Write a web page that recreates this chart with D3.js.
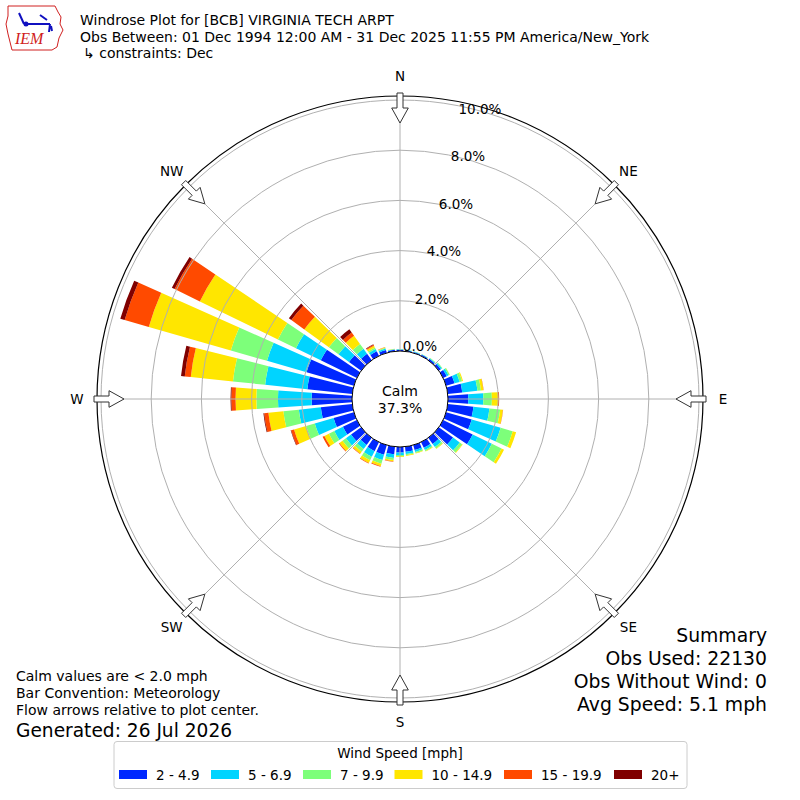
<!DOCTYPE html>
<html>
<head>
<meta charset="utf-8">
<script src="https://cdn.jsdelivr.net/npm/d3@7"></script>
<style>
  body { margin: 0; background: #fff; }
  svg { font-family: "DejaVu Sans", sans-serif; }
</style>
</head>
<body>
<div class="container"></div>
<script>
// wind direction (deg, meteorology) for each bar
const directions = [0, 10, 20, 30, 40, 50, 60, 70, 80, 90, 100, 110, 120, 130, 140, 150, 160, 170,
                    180, 190, 200, 210, 220, 230, 240, 250, 260, 270, 280, 290, 300, 310, 320, 330, 340, 350]

// percent of obs per direction, one array per speed bin
const bin2to5   = [0.05, 0.04, 0.04, 0.05, 0.07, 0.10, 0.16, 0.35, 0.58, 0.81, 1.03, 1.06, 1.31, 0.70, 0.30, 0.25, 0.20, 0.20,
                   0.22, 0.30, 0.40, 0.40, 0.35, 0.50, 0.62, 0.84, 1.26, 1.61, 1.80, 1.96, 1.60, 0.60, 0.32, 0.20, 0.12, 0.06]
const bin5to7   = [0.02, 0.02, 0.02, 0.02, 0.03, 0.05, 0.08, 0.21, 0.61, 0.60, 0.64, 1.20, 0.85, 0.33, 0.15, 0.10, 0.08, 0.09,
                   0.10, 0.15, 0.22, 0.25, 0.20, 0.25, 0.38, 0.78, 0.88, 1.34, 1.69, 1.64, 1.10, 0.52, 0.24, 0.10, 0.06, 0.02]
const bin7to10  = [0.01, 0.01, 0.01, 0.01, 0.02, 0.03, 0.05, 0.10, 0.14, 0.34, 0.43, 0.50, 0.43, 0.12, 0.08, 0.05, 0.05, 0.05,
                   0.05, 0.08, 0.15, 0.15, 0.13, 0.17, 0.24, 0.36, 0.62, 0.86, 1.29, 1.50, 0.80, 0.47, 0.24, 0.07, 0.03, 0.01]
const bin10to15 = [0.00, 0.00, 0.00, 0.00, 0.00, 0.00, 0.01, 0.04, 0.10, 0.25, 0.11, 0.14, 0.11, 0.03, 0.02, 0.02, 0.02, 0.03,
                   0.03, 0.05, 0.10, 0.12, 0.10, 0.15, 0.20, 0.50, 0.60, 0.83, 1.69, 3.40, 3.46, 1.21, 0.40, 0.08, 0.02, 0.01]
const bin15to20 = [0.00, 0.00, 0.00, 0.00, 0.00, 0.00, 0.00, 0.00, 0.01, 0.04, 0.01, 0.00, 0.00, 0.00, 0.00, 0.00, 0.00, 0.00,
                   0.00, 0.02, 0.03, 0.03, 0.02, 0.03, 0.08, 0.12, 0.17, 0.17, 0.24, 1.00, 1.12, 0.64, 0.16, 0.04, 0.01, 0.00]
const bin20plus = [0.00, 0.00, 0.00, 0.00, 0.00, 0.00, 0.00, 0.00, 0.00, 0.00, 0.00, 0.00, 0.00, 0.00, 0.00, 0.00, 0.00, 0.00,
                   0.00, 0.00, 0.00, 0.00, 0.00, 0.00, 0.00, 0.02, 0.03, 0.03, 0.15, 0.18, 0.12, 0.12, 0.16, 0.02, 0.00, 0.00]

const speedLabels = ["2 - 4.9", "5 - 6.9", "7 - 9.9", "10 - 14.9", "15 - 19.9", "20+"]
const speedColors = ["#0028ff", "#00d4ff", "#7dff7a", "#ffe600", "#ff4a00", "#800000"]

const ringTicks = [0, 2, 4, 6, 8, 10]
const compassNames = ["N", "NE", "E", "SE", "S", "SW", "W", "NW"]
const compassAngles = [0, 45, 90, 135, 180, 225, 270, 315]

const calmPct = "37.3%"
const titleLines = ["Windrose Plot for [BCB] VIRGINIA TECH ARPT",
                    "Obs Between: 01 Dec 1994 12:00 AM - 31 Dec 2025 11:55 PM America/New_York",
                    "\u21b3 constraints: Dec"]
const noteLines = ["Calm values are < 2.0 mph", "Bar Convention: Meteorology", "Flow arrows relative to plot center."]
const generated = "Generated: 26 Jul 2026"
const summaryLines = ["Summary", "Obs Used: 22130", "Obs Without Wind: 0", "Avg Speed: 5.1 mph"]

// layout
const width = 800
const height = 800
const cx = 400
const cy = 399
const calmR = 48
const spineR = 303

const svg = d3.select(".container")
    .append("svg")
    .attr("width", width)
    .attr("height", height)

svg.append("rect").attr("width", width).attr("height", height).attr("fill", "#fff")

const rScale = d3.scaleLinear()
    .domain([0, 10])
    .range([calmR, 299])

const rad = d => d * Math.PI / 180
// compass bearing -> screen point
const polar = (deg, r) => [cx + r * Math.sin(rad(deg)), cy - r * Math.cos(rad(deg))]

const rose = svg.append("g").attr("transform", `translate(${cx}, ${cy})`)

// stack the bins per direction
const table = directions.map((d, i) => ({
    dir: d,
    b0: bin2to5[i], b1: bin5to7[i], b2: bin7to10[i],
    b3: bin10to15[i], b4: bin15to20[i], b5: bin20plus[i]
}))
const stacked = d3.stack().keys(["b0", "b1", "b2", "b3", "b4", "b5"])(table)

const arc = d3.arc()
const halfWidth = 4   // bar opening in degrees on each side

stacked.forEach((layer, k) => {
    rose.append("g")
        .selectAll("path")
        .data(layer)
        .enter()
        .append("path")
        .attr("d", d => arc({
            innerRadius: rScale(d[0]),
            outerRadius: rScale(d[1]),
            startAngle: rad(d.data.dir - halfWidth),
            endAngle: rad(d.data.dir + halfWidth)
        }))
        .style("fill", speedColors[k])
})

// grid rings and spokes on top of bars
const grid = rose.append("g")
grid.selectAll("circle")
    .data(ringTicks.slice(1))
    .enter()
    .append("circle")
    .attr("r", d => rScale(d))
    .attr("fill", "none")
    .attr("stroke", "#b0b0b0")
    .attr("stroke-width", 1)

grid.selectAll("line")
    .data(compassAngles)
    .enter()
    .append("line")
    .attr("x1", d => calmR * Math.sin(rad(d)))
    .attr("y1", d => -calmR * Math.cos(rad(d)))
    .attr("x2", d => spineR * Math.sin(rad(d)))
    .attr("y2", d => -spineR * Math.cos(rad(d)))
    .attr("stroke", "#b0b0b0")
    .attr("stroke-width", 1)

// calm circle
rose.append("circle")
    .attr("r", calmR)
    .attr("fill", "#fff")
    .attr("stroke", "#000")
    .attr("stroke-width", 1)

rose.append("text")
    .attr("y", -3)
    .attr("text-anchor", "middle")
    .style("font-size", "14px")
    .text("Calm")
rose.append("text")
    .attr("y", 13.5)
    .attr("text-anchor", "middle")
    .style("font-size", "14px")
    .text(calmPct)

// outer spine
rose.append("circle")
    .attr("r", spineR)
    .attr("fill", "none")
    .attr("stroke", "#000")
    .attr("stroke-width", 1.2)

// ring labels, placed along a ray a little off north
svg.append("g")
    .selectAll("text")
    .data(ringTicks)
    .enter()
    .append("text")
    .attr("x", d => polar(14.2, 0.974 * rScale(d) + 7.9)[0] + 6.6)
    .attr("y", d => polar(14.2, 0.974 * rScale(d) + 7.9)[1])
    .attr("text-anchor", "middle")
    .attr("dominant-baseline", "central")
    .style("font-size", "13.5px")
    .text(d => d.toFixed(1) + "%")

// hollow flow arrows pointing at the center
const arrowShape = [[306, -3], [291, -3], [291, -8.3], [276, 0], [291, 8.3], [291, 3], [306, 3]]
svg.append("g")
    .selectAll("polygon")
    .data(compassAngles)
    .enter()
    .append("polygon")
    .attr("points", a => arrowShape.map(([r, off]) => {
        const p = polar(a, r)
        return [p[0] + off * Math.cos(rad(a)), p[1] + off * Math.sin(rad(a))].join(",")
    }).join(" "))
    .attr("fill", "#fff")
    .attr("stroke", "#333")
    .attr("stroke-width", 1)

// compass labels
svg.append("g")
    .selectAll("text")
    .data(compassNames)
    .enter()
    .append("text")
    .attr("x", (d, i) => polar(compassAngles[i], 323)[0])
    .attr("y", (d, i) => polar(compassAngles[i], 323)[1])
    .attr("text-anchor", "middle")
    .attr("dominant-baseline", "central")
    .style("font-size", "13.5px")
    .text(d => d)

// header
svg.append("g")
    .selectAll("text")
    .data(titleLines)
    .enter()
    .append("text")
    .attr("x", (d, i) => i == 2 ? 83 : 80)
    .attr("y", (d, i) => 25 + i * 16.5)
    .style("font-size", "14px")
    .text(d => d)

// IEM logo
const logo = svg.append("g")
logo.append("path")
    .attr("d", "M8,6 L55,6 L58,12 L61,17 L60,24 L63,30 L59,38 L57,47 L52,50 L12,50 L10,42 L8,34 L6,24 L8,16 Z")
    .attr("fill", "none")
    .attr("stroke", "#d02020")
    .attr("stroke-width", 1)
logo.append("path")
    .attr("d", "M24,24 L50,24 M24,24 L19,13 M40,15 L47,20 M50,24 L49,32 M51,26 L52,31")
    .attr("fill", "none")
    .attr("stroke", "#1010c0")
    .attr("stroke-width", 2)
logo.append("circle").attr("cx", 26).attr("cy", 24).attr("r", 2.5).attr("fill", "#1010c0")
logo.append("text")
    .attr("x", 15)
    .attr("y", 44)
    .style("font-family", "'Liberation Serif', serif")
    .style("font-style", "italic")
    .style("font-size", "16px")
    .attr("fill", "#d02020")
    .text("IEM")

// notes bottom left
svg.append("g")
    .selectAll("text")
    .data(noteLines)
    .enter()
    .append("text")
    .attr("x", 16)
    .attr("y", (d, i) => 681 + i * 17)
    .style("font-size", "14px")
    .text(d => d)
svg.append("text")
    .attr("x", 16)
    .attr("y", 736.5)
    .style("font-size", "18.6px")
    .text(generated)

// summary bottom right
svg.append("g")
    .selectAll("text")
    .data(summaryLines)
    .enter()
    .append("text")
    .attr("x", 767)
    .attr("y", (d, i) => 641.5 + i * 23.2)
    .attr("text-anchor", "end")
    .style("font-size", "18.8px")
    .text(d => d)

// legend
const legend = svg.append("g").attr("id", "legend")
legend.append("rect")
    .attr("x", 114)
    .attr("y", 741.5)
    .attr("width", 573)
    .attr("height", 47)
    .attr("rx", 3)
    .attr("fill", "#fff")
    .attr("stroke", "#cccccc")
    .attr("stroke-width", 1)
legend.append("text")
    .attr("x", 400)
    .attr("y", 757.5)
    .attr("text-anchor", "middle")
    .style("font-size", "13.5px")
    .text("Wind Speed [mph]")

const legendX = [119, 211, 303, 394.5, 504, 614]
const items = legend.selectAll("g.legend-label")
    .data(speedLabels)
    .enter()
    .append("g")
    .attr("class", "legend-label")
    .attr("transform", (d, i) => `translate(${legendX[i]}, ${770})`)
items.append("rect")
    .attr("width", 28)
    .attr("height", 9)
    .style("fill", (d, i) => speedColors[i])
items.append("text")
    .attr("x", 37)
    .attr("y", 9.5)
    .style("font-size", "13.5px")
    .text(d => d)
</script>
</body>
</html>
